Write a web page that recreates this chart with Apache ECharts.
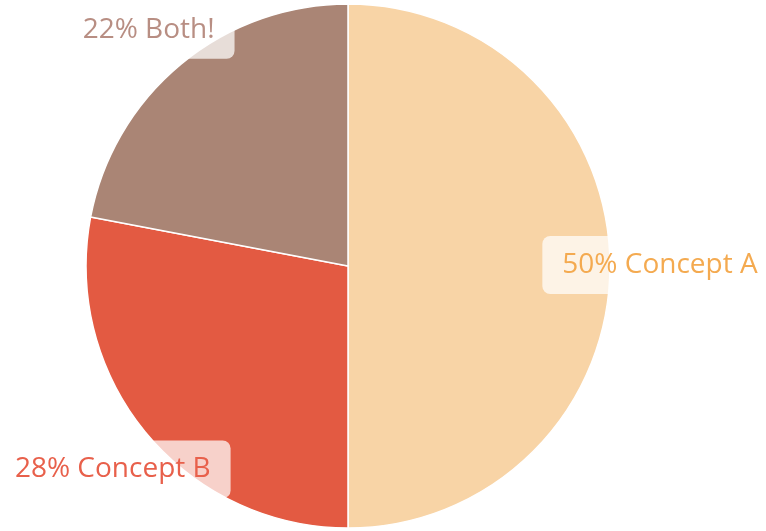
<!DOCTYPE html>
<html>
<head>
<meta charset="utf-8">
<script src="https://cdn.jsdelivr.net/npm/echarts@6/dist/echarts.min.js"></script>
<style>
  html, body { margin: 0; padding: 0; background: #ffffff; }
  #chart { width: 766px; height: 531px; }
</style>
</head>
<body>
<div id="chart"></div>
<script>
// Share of answers per concept
const categories = ['Concept A', 'Concept B', 'Both!'];
const shares = [50, 28, 22];
const sliceColors = ['#f8d4a6', '#e35a42', '#aa8575'];
const labelColors = ['#f4aa50', '#e8604b', '#b88e83'];
// label offsets from the slice centre (inside position)
const labelOffsets = [[178, -1], [-132, 118], [-114, -133]];

const chart = echarts.init(document.getElementById('chart'), null, { renderer: 'canvas' });

const data = categories.map((name, i) => ({
  name: name,
  value: shares[i],
  itemStyle: { color: sliceColors[i] },
  label: {
    color: labelColors[i],
    offset: labelOffsets[i]
  }
}));

chart.setOption({
  animation: false,
  series: [{
    type: 'pie',
    center: [348, 266],
    radius: 262,
    startAngle: 90,
    clockwise: true,
    data: data,
    itemStyle: { borderColor: '#ffffff', borderWidth: 1.5 },
    labelLine: { show: false },
    label: {
      show: true,
      position: 'inside',
      formatter: p => p.value + '% ' + p.name,
      fontFamily: 'Open Sans',
      fontSize: 28,
      lineHeight: 28,
      backgroundColor: 'rgba(255,255,255,0.72)',
      borderRadius: 8,
      padding: [15, 20]
    },
    emphasis: { disabled: true }
  }]
});
</script>
</body>
</html>
